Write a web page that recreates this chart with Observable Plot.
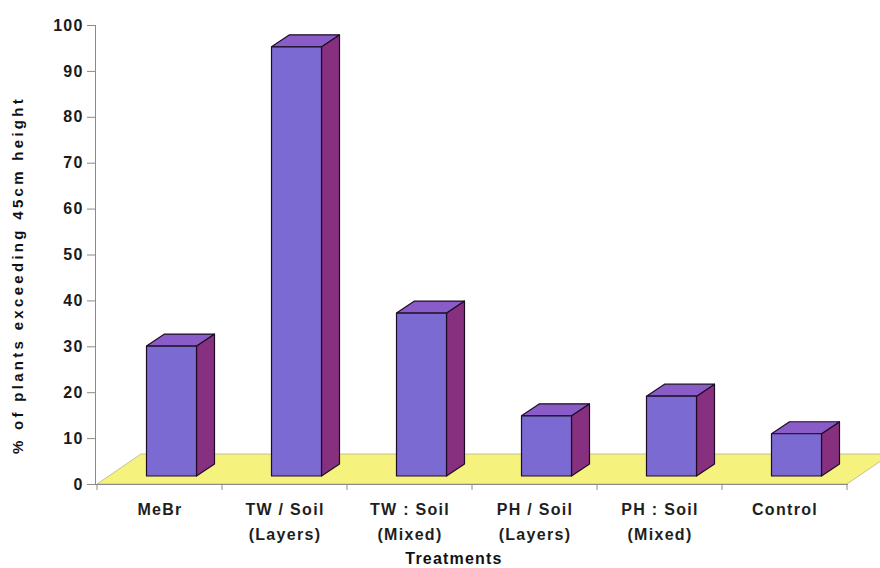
<!DOCTYPE html>
<html>
<head>
<meta charset="utf-8">
<script src="https://cdn.jsdelivr.net/npm/d3@7"></script>
<script src="https://cdn.jsdelivr.net/npm/@observablehq/plot@0.6"></script>
<style>
  html, body { margin: 0; padding: 0; background: #fff; overflow: hidden; }
  #chart svg { overflow: hidden; display: block; }
  .ytick text { letter-spacing: 1.2px; }
  .xlab { letter-spacing: 1.3px; }
  .xtitle { letter-spacing: 1.2px; }
  .ytitle { letter-spacing: 3.3px; }
</style>
</head>
<body>
<div id="chart"></div>
<script>
const categories = ["MeBr", "TW / Soil (Layers)", "TW : Soil (Mixed)", "PH / Soil (Layers)", "PH : Soil (Mixed)", "Control"];
const tickLabels = ["MeBr", "TW / Soil\n(Layers)", "TW : Soil\n(Mixed)", "PH / Soil\n(Layers)", "PH : Soil\n(Mixed)", "Control"];
const values = [28.3, 93.5, 35.5, 13.1, 17.4, 9.2];
const yTicks = [0, 10, 20, 30, 40, 50, 60, 70, 80, 90, 100];

const data = categories.map((c, i) => ({category: c, value: values[i], label: tickLabels[i]}));

const COL = {front: "#7b6ad2", side: "#86307f", top: "#8a5cc8", floor: "#f6f27e", edge: "#1e0c24", axis: "#8a8a8a"};
const FLOOR = {dx: 44, dy: 30};
const BAR = {frac: 0.4, offX: 12, offY: 8, dx: 18, dy: 12};

function floorMark(index, scales) {
  const x = scales.x, y = scales.y;
  const n = categories.length;
  const x0 = x(categories[0]);
  const bw = x(categories[1]) - x(categories[0]);
  const x1 = x0 + bw * n;
  const y0 = y(0);
  const g = d3.create("svg:g");
  g.append("path")
    .attr("d", `M${x0},${y0}L${x1},${y0}L${x1 + FLOOR.dx},${y0 - FLOOR.dy}L${x0 + FLOOR.dx},${y0 - FLOOR.dy}Z`)
    .attr("fill", COL.floor).attr("stroke", "#b8b48a").attr("stroke-width", 0.8);
  for (let k = 0; k <= n; k++) {
    const xt = x0 + bw * k;
    g.append("line").attr("x1", xt).attr("x2", xt).attr("y1", y0).attr("y2", y0 + 6)
      .attr("stroke", COL.axis).attr("stroke-width", 1);
  }
  return g.node();
}

function barsMark(index, scales) {
  const x = scales.x, y = scales.y;
  const bw = x(categories[1]) - x(categories[0]);
  const fw = bw * BAR.frac;
  const g = d3.create("svg:g").attr("stroke", COL.edge).attr("stroke-width", 1.2).attr("stroke-linejoin", "round");
  data.forEach(d => {
    const l = x(d.category) + (bw - fw) / 2 + BAR.offX;
    const r = l + fw;
    const b = y(0) - BAR.offY;
    const t = y(d.value) - BAR.offY;
    const dx = BAR.dx, dy = BAR.dy;
    g.append("path").attr("d", `M${r},${b}L${r + dx},${b - dy}L${r + dx},${t - dy}L${r},${t}Z`).attr("fill", COL.side);
    g.append("path").attr("d", `M${l},${t}L${l + dx},${t - dy}L${r + dx},${t - dy}L${r},${t}Z`).attr("fill", COL.top);
    g.append("path").attr("d", `M${l},${b}L${r},${b}L${r},${t}L${l},${t}Z`).attr("fill", COL.front);
  });
  return g.node();
}

const chart = Plot.plot({
  width: 880,
  height: 568,
  marginLeft: 95,
  marginRight: 32,
  marginTop: 25,
  marginBottom: 84,
  style: {fontFamily: "'Liberation Sans', Arial, sans-serif", background: "#fff"},
  x: {type: "band", domain: categories, padding: 0, axis: null},
  y: {domain: [0, 100], axis: null},
  marks: [
    floorMark,
    Plot.ruleY([0], {stroke: COL.axis, strokeWidth: 1}),
    Plot.frame({anchor: "left", stroke: COL.axis, strokeWidth: 1}),
    barsMark,
    Plot.axisY({ticks: yTicks, tickSize: 8, tickPadding: 4, stroke: COL.axis, fontSize: 16, fontWeight: "bold", fill: "#1a1a1a", label: null, tickFormat: d => d, className: "ytick"}),
    Plot.text(data, {x: "category", text: "label", frameAnchor: "bottom", dy: 13, lineAnchor: "top", lineHeight: 1.56, fontSize: 16, fontWeight: "bold", fill: "#1e1e1e", className: "xlab"}),
    Plot.text(["Treatments"], {frameAnchor: "bottom", dx: -18, dy: 74, lineAnchor: "middle", fontSize: 16, fontWeight: "bold", fill: "#111", className: "xtitle"}),
    Plot.text(["% of plants exceeding 45cm height"], {frameAnchor: "left", textAnchor: "middle", lineAnchor: "middle", dx: -77, dy: 20, rotate: -90, fontSize: 15, fontWeight: "bold", fill: "#111", className: "ytitle"})
  ]
});
document.getElementById("chart").appendChild(chart);
</script>
</body>
</html>
